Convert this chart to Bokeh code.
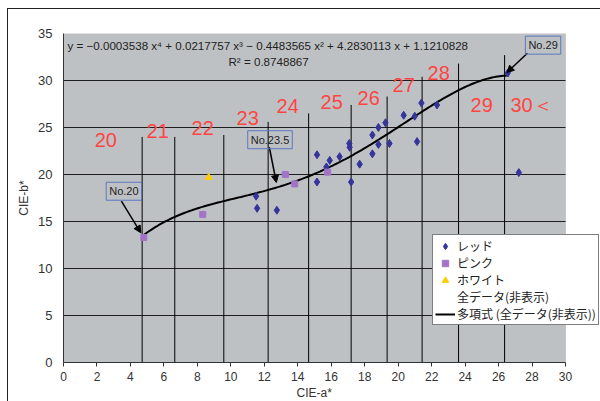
import numpy as np
from bokeh.plotting import figure
from bokeh.models import (Range1d, Label, Arrow, NormalHead, Legend, LegendItem,
                          BoxAnnotation, Title)
from bokeh.core.properties import value
from bokeh.embed import file_html
from bokeh.resources import INLINE

# ---- data ----
red_x = [11.51, 11.57, 12.75, 15.15, 15.15, 15.71, 15.91, 16.50, 17.08, 17.10, 17.19, 17.70,
         18.46, 18.46, 18.82, 18.82, 19.24, 19.48, 20.33, 20.99, 21.13, 21.39, 22.32, 26.55, 27.21]
red_y = [17.69, 16.40, 16.20, 22.10, 19.20, 20.80, 21.50, 21.90, 23.30, 22.90, 19.20, 21.10,
         24.20, 22.20, 25.00, 23.20, 25.50, 23.30, 26.30, 26.20, 23.50, 27.60, 27.40, 30.80, 20.20]
pink_x = [4.80, 8.32, 13.26, 13.82, 15.79]
pink_y = [13.30, 15.75, 20.00, 19.00, 20.25]
white_x = [8.68]
white_y = [19.70]

# polynomial trendline (coefficients printed on the chart, highest power first)
trend_coef = [-0.0003538, 0.0217757, -0.4483565, 4.2830113, 1.1210828]
trend_x_span = [4.8, 26.6]
r_squared = 0.8748867

# shade-number separators and labels
bound_x = [4.70, 6.65, 9.58, 12.23, 14.65, 17.19, 19.34, 21.43, 23.61, 26.36]
bound_top = [24.0, 24.0, 24.2, 25.6, 26.5, 27.4, 28.3, 30.4, 31.8, 32.7]
shade_labels = ["20", "21", "22", "23", "24", "25", "26", "27", "28", "29", "30＜"]
shade_x = [2.53, 5.63, 8.32, 11.01, 13.40, 16.03, 18.24, 20.33, 22.42, 24.99, 27.97]
shade_y = [23.65, 24.60, 24.90, 25.99, 27.27, 27.70, 28.10, 29.50, 30.78, 27.37, 27.37]

x_min, x_max = 0, 30
y_min, y_max = 0, 35
x_ticks = list(range(0, 31, 2))
y_ticks = list(range(0, 36, 5))
grid_y = [5, 10, 15, 20, 25, 30]

# callouts: text, box centre, arrow start, arrow end
callouts = [
    ("No.20", (3.61, 18.22), (3.46, 17.16), (4.62, 13.80)),
    ("No.23.5", (12.34, 23.70), (12.30, 22.90), (12.72, 19.15)),
    ("No.29", (28.66, 33.76), (27.72, 32.90), (26.50, 30.85)),
]

JP = "Noto Sans CJK JP"
SANS = "Liberation Sans"
PLOT_BG = "#BEC1C4"

# the visible crop cuts the chart on the right: the frame runs to the page edge,
# the grey plot area itself stops at x = 30
x_view_end = x_max + 35 / (502 / 30)

p = figure(width=600, height=401, output_backend="svg", toolbar_location=None,
           x_range=Range1d(x_min, x_view_end), y_range=Range1d(y_min, y_max),
           min_border_left=63, min_border_right=0, min_border_top=33, min_border_bottom=39)
# outer chart border (left and top edges visible in the crop)
p.border_fill_alpha = 0
p.background_fill_color = "white"
p.styles = {"background-color": "white",
            "box-shadow": "inset 7px 8px 0 0 white, inset 8px 9px 0 0 #222222"}
p.outline_line_color = None
p.xgrid.visible = False
p.ygrid.visible = False

p.add_layout(BoxAnnotation(left=x_min, right=x_max, bottom=y_min, top=y_max,
                           fill_color=PLOT_BG, fill_alpha=1,
                           line_color="#8A8A8A", line_width=1, level="underlay"))

p.xaxis.ticker = x_ticks
p.yaxis.ticker = y_ticks
p.xaxis.bounds = (x_min, x_max)
for ax in (p.xaxis, p.yaxis):
    ax.axis_line_color = "#333333"
    ax.major_tick_line_color = "#333333"
    ax.minor_tick_line_color = None
    ax.major_label_text_font = SANS
    ax.major_label_text_color = "#333333"
p.xaxis.major_tick_out = 4
p.xaxis.major_tick_in = 0
p.xaxis.major_label_standoff = 5
p.xaxis.major_label_text_font_size = "12px"
p.yaxis.major_tick_out = 0
p.yaxis.major_tick_in = 0
p.yaxis.major_label_standoff = 11
p.yaxis.major_label_text_font_size = "13px"
p.yaxis.axis_label = "CIE-b*"
p.yaxis.axis_label_text_font = SANS
p.yaxis.axis_label_text_font_size = "12px"
p.yaxis.axis_label_text_font_style = "normal"
p.yaxis.axis_label_text_color = "#333333"
p.yaxis.axis_label_standoff = 4

# x axis title, below the tick labels, centred on the grey plot area
p.add_layout(Title(text="CIE-a*", align="left", offset=233, standoff=0,
                   text_font=SANS, text_font_size="12px", text_font_style="normal",
                   text_color="#333333"), "below")

# horizontal gridlines
p.segment(x0=[x_min] * len(grid_y), y0=grid_y, x1=[x_max] * len(grid_y), y1=grid_y,
          line_color="#1E1E1E", line_width=1)

# separators
p.segment(x0=bound_x, y0=[y_min] * len(bound_x), x1=bound_x, y1=bound_top,
          line_color="black", line_width=1)

# shade labels
p.text(x=shade_x, y=shade_y, text=shade_labels, text_font=value(SANS),
       text_font_size="20px", text_color="#FF4444", text_align="center",
       text_baseline="middle")

# trendline
tx = np.linspace(trend_x_span[0], trend_x_span[1], 200)
ty = np.polyval(trend_coef, tx)
r_trend = p.line(tx, ty, line_color="black", line_width=2)

r_red = p.scatter(red_x, red_y, marker="diamond", size=8,
                  fill_color="#34349A", line_color="#34349A")
r_pink = p.scatter(pink_x, pink_y, marker="square", size=6,
                   fill_color="#A274C8", line_color="#A274C8")
r_white = p.scatter(white_x, white_y, marker="triangle", size=7,
                    fill_color="#FFCC00", line_color="#FFCC00")
r_all = p.scatter([], [], marker="circle", size=1, fill_alpha=0, line_alpha=0)

# equation text
def sup(n):
    return {"2": "²", "3": "³", "4": "⁴"}[n]

c = trend_coef
eq = (f"y = −{abs(c[0]):.7f} x{sup('4')} + {c[1]:.7f} x{sup('3')} − {abs(c[2]):.7f} x{sup('2')}"
      f" + {c[3]:.7f} x + {c[4]:.7f}")
p.add_layout(Label(x=4, y=317, x_units="screen", y_units="screen", text=eq,
                   text_font=SANS, text_font_size="11.6px", text_color="#222222",
                   text_baseline="middle"))
p.add_layout(Label(x=165, y=301, x_units="screen", y_units="screen",
                   text=f"R{sup('2')} = {r_squared:.7f}",
                   text_font=SANS, text_font_size="11.6px", text_color="#222222",
                   text_baseline="middle"))

# callouts
for txt, (bx, by), (ax0, ay0), (ax1, ay1) in callouts:
    p.add_layout(Arrow(x_start=ax0, y_start=ay0, x_end=ax1, y_end=ay1,
                       line_color="black", line_width=1.5,
                       end=NormalHead(size=7, fill_color="black", line_color="black")))
    p.add_layout(Label(x=bx, y=by, text=txt, text_font=SANS, text_font_size="11px",
                       text_color="#222222", text_align="center", text_baseline="middle",
                       border_line_color="#5A78C0", border_line_width=1,
                       background_fill_color=None, padding=3))

legend = Legend(items=[
    LegendItem(label="レッド", renderers=[r_red]),
    LegendItem(label="ピンク", renderers=[r_pink]),
    LegendItem(label="ホワイト", renderers=[r_white]),
    LegendItem(label="全データ(非表示)", renderers=[r_all]),
    LegendItem(label="多項式 (全データ(非表示))", renderers=[r_trend]),
], location=(369, 37))
legend.label_text_font = JP
legend.label_text_font_size = "12px"
legend.label_text_color = "#222222"
legend.border_line_color = "black"
legend.border_line_width = 1
legend.background_fill_color = "white"
legend.background_fill_alpha = 1
legend.padding = 2
legend.spacing = 0
legend.margin = 0
legend.glyph_width = 20
legend.glyph_height = 16
legend.label_height = 16
legend.label_standoff = 2
p.add_layout(legend)

open("out.html", "w").write(file_html(p, INLINE))
